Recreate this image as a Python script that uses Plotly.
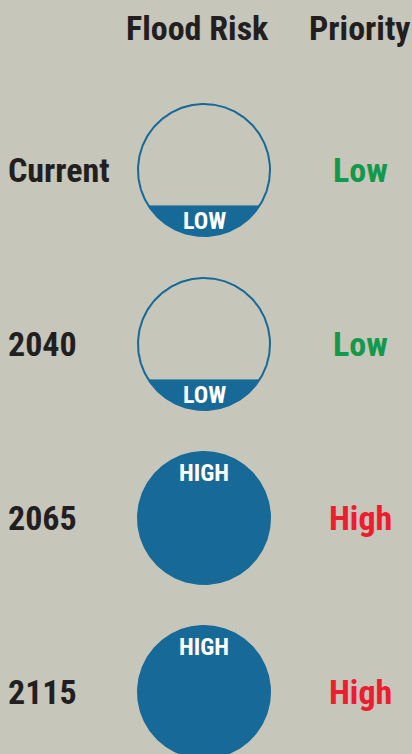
import numpy as np
import plotly.graph_objects as go

# ---- data ----
periods = ["Current", "2040", "2065", "2115"]
risk_labels = ["LOW", "LOW", "HIGH", "HIGH"]
risk_fill = [0.23, 0.23, 1.0, 1.0]          # fraction of circle filled
priority = ["Low", "Low", "High", "High"]
headers = ["Flood Risk", "Priority"]

# ---- style ----
W, H = 412, 754
BG = "#c6c6bb"
BLUE = "#176a98"
TEXT = "#231f20"
PRIO_COL = {"Low": "#12994a", "High": "#ed1c2e"}
FONT = "Roboto Condensed, Open Sans Condensed, DejaVu Sans Condensed, sans-serif"

ROW0, ROWSTEP = 170, 174
CX, R = 204, 66
XLABEL, XPRIO = 6, 360
HEADER_X = [197, 359]
HEADER_Y = 28

fig = go.Figure()

for i, (per, lab, f, pr) in enumerate(zip(periods, risk_labels, risk_fill, priority)):
    cy = ROW0 + i * ROWSTEP
    # fill segment
    y_level = cy + R - 2 * R * f
    s0 = max(-1.0, min(1.0, (y_level - cy) / R))
    t0 = np.arcsin(s0)
    t = np.linspace(t0, np.pi - t0, 200)
    xs = CX + R * np.cos(t)
    ys = cy + R * np.sin(t)
    fig.add_trace(go.Scatter(x=np.append(xs, xs[0]), y=np.append(ys, ys[0]),
                             mode="lines", fill="toself", fillcolor=BLUE,
                             line=dict(color=BLUE, width=0.5), hoverinfo="skip",
                             showlegend=False))
    # outline
    tt = np.linspace(0, 2 * np.pi, 300)
    fig.add_trace(go.Scatter(x=CX + R * np.cos(tt), y=cy + R * np.sin(tt),
                             mode="lines", line=dict(color=BLUE, width=2),
                             hoverinfo="skip", showlegend=False))
    band = 2 * R * f
    ly = y_level + 0.5 * min(band, 42)
    fig.add_annotation(x=CX, y=ly, text=f"<b>{lab}</b>", showarrow=False,
                       font=dict(family=FONT, size=24, color="white"),
                       xanchor="center", yanchor="middle")
    fig.add_annotation(x=XLABEL, y=cy, text=f"<b>{per}</b>", showarrow=False,
                       font=dict(family=FONT, size=34, color=TEXT),
                       xanchor="left", yanchor="middle")
    fig.add_annotation(x=XPRIO, y=cy, text=f"<b>{pr}</b>", showarrow=False,
                       font=dict(family=FONT, size=34, color=PRIO_COL[pr]),
                       xanchor="center", yanchor="middle")

for hx, h in zip(HEADER_X, headers):
    fig.add_annotation(x=hx, y=HEADER_Y, text=f"<b>{h}</b>", showarrow=False,
                       font=dict(family=FONT, size=34, color=TEXT),
                       xanchor="center", yanchor="middle")

fig.update_layout(
    width=W, height=H, margin=dict(l=0, r=0, t=0, b=0),
    paper_bgcolor=BG, plot_bgcolor=BG,
    xaxis=dict(range=[0, W], visible=False, fixedrange=True),
    yaxis=dict(range=[H, 0], visible=False, fixedrange=True),
)
fig.write_html("out.html", config={"displayModeBar": False})
